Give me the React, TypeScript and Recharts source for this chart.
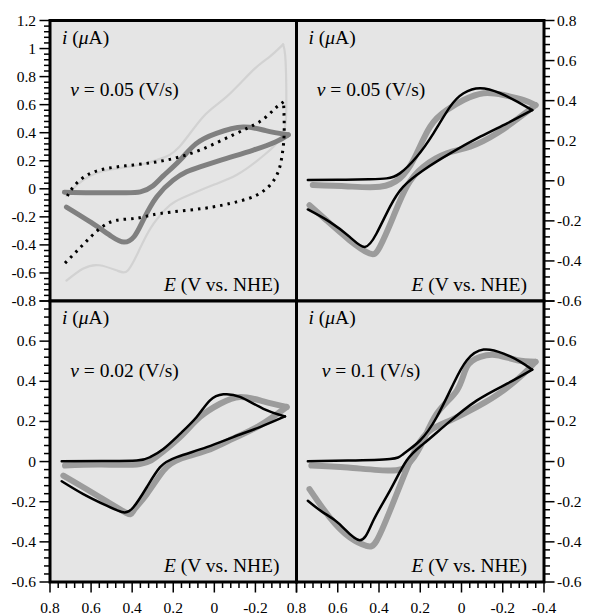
import React from 'react';
import { LineChart, Line, XAxis, YAxis, CartesianGrid, ReferenceArea } from 'recharts';

type Pt = { E: number; i: number };
const pts = (a: number[][]): Pt[] => a.map(([E, i]) => ({ E, i }));

// ---------- tick labels ----------
const X_LABELS_LEFT = ['0.8', '0.6', '0.4', '0.2', '0', '-0.2'];
const X_LABELS_RIGHT = ['0.8', '0.6', '0.4', '0.2', '0', '-0.2', '-0.4'];
const Y_LABELS_TL = ['1.2', '1', '0.8', '0.6', '0.4', '0.2', '0', '-0.2', '-0.4', '-0.6', '-0.8'];
const Y_LABELS_TR = ['0.8', '0.6', '0.4', '0.2', '0', '-0.2', '-0.4', '-0.6'];
const Y_LABELS_BOTTOM = ['0.6', '0.4', '0.2', '0', '-0.2', '-0.4', '-0.6'];

const SCAN_RATES = ['0.05', '0.05', '0.02', '0.1'];

// ---------- top-left panel (E, i) ----------
const TL_DARK_FWD = [[0.73, -0.025], [0.6, -0.028], [0.45, -0.028], [0.36, -0.022], [0.3, 0.02], [0.25, 0.09], [0.17, 0.2], [0.09, 0.32], [-0.01, 0.395], [-0.14, 0.44], [-0.25, 0.415], [-0.36, 0.385]];
const TL_DARK_REV = [[-0.36, 0.385], [-0.3, 0.336], [-0.19, 0.276], [-0.06, 0.217], [0.07, 0.157], [0.135, 0.121], [0.2, 0.062], [0.28, -0.057], [0.345, -0.22], [0.39, -0.34], [0.44, -0.38], [0.5, -0.34], [0.6, -0.24], [0.72, -0.13]];
const TL_LIGHT_FWD = [[0.72, -0.05], [0.65, 0.05], [0.557, 0.12], [0.45, 0.15], [0.35, 0.175], [0.26, 0.215], [0.17, 0.3], [0.054, 0.514], [-0.06, 0.657], [-0.19, 0.848], [-0.27, 0.943], [-0.335, 1.03]];
const TL_LIGHT_REV = [[-0.335, 1.03], [-0.345, 0.95], [-0.35, 0.75], [-0.35, 0.55], [-0.34, 0.42], [-0.3, 0.32], [-0.25, 0.25], [-0.2, 0.19], [-0.11, 0.1], [0.0, 0.03], [0.1, -0.03], [0.19, -0.09], [0.24, -0.15], [0.31, -0.28], [0.37, -0.45], [0.42, -0.58], [0.47, -0.585], [0.56, -0.545], [0.64, -0.57], [0.72, -0.655]];
const TL_DOT_LOWER = [[0.727, -0.53], [0.64, -0.4], [0.557, -0.283], [0.475, -0.224], [0.378, -0.21], [0.264, -0.176], [0.054, -0.14], [-0.109, -0.093], [-0.206, -0.045], [-0.271, 0.026], [-0.311, 0.121], [-0.33, 0.24], [-0.34, 0.4], [-0.337, 0.62]];
const TL_DOT_UPPER = [[-0.337, 0.62], [-0.29, 0.565], [-0.222, 0.48], [-0.092, 0.385], [0.07, 0.276], [0.232, 0.205], [0.394, 0.17], [0.557, 0.134], [0.654, 0.062], [0.703, -0.02], [0.725, -0.08]];

// ---------- top-right panel ----------
const TR_SIM_FWD = [[0.745, 0.004], [0.6, 0.005], [0.45, 0.008], [0.363, 0.012], [0.299, 0.037], [0.217, 0.12], [0.136, 0.237], [0.055, 0.37], [-0.01, 0.437], [-0.091, 0.462], [-0.188, 0.437], [-0.27, 0.395], [-0.343, 0.353]];
const TR_SIM_REV = [[-0.343, 0.353], [-0.221, 0.287], [-0.091, 0.22], [0.055, 0.137], [0.185, 0.053], [0.283, -0.03], [0.347, -0.13], [0.412, -0.263], [0.469, -0.33], [0.542, -0.28], [0.639, -0.205], [0.745, -0.143]];
const TR_EXP_FWD = [[0.721, -0.021], [0.55, -0.028], [0.396, -0.03], [0.299, 0.012], [0.23, 0.11], [0.152, 0.27], [0.071, 0.353], [-0.01, 0.403], [-0.107, 0.437], [-0.204, 0.428], [-0.302, 0.403], [-0.359, 0.378]];
const TR_EXP_REV = [[-0.359, 0.378], [-0.286, 0.32], [-0.172, 0.237], [-0.042, 0.17], [0.071, 0.137], [0.185, 0.07], [0.266, -0.03], [0.331, -0.18], [0.396, -0.33], [0.445, -0.363], [0.542, -0.297], [0.655, -0.197], [0.737, -0.122]];

// ---------- bottom-left panel ----------
const BL_SIM_FWD = [[0.743, 0.002], [0.55, 0.003], [0.378, 0.005], [0.313, 0.022], [0.248, 0.063], [0.167, 0.138], [0.086, 0.222], [0.021, 0.305], [-0.044, 0.335], [-0.125, 0.322], [-0.239, 0.263], [-0.344, 0.225]];
const BL_SIM_REV = [[-0.344, 0.225], [-0.222, 0.172], [-0.092, 0.122], [0.037, 0.072], [0.183, 0.022], [0.264, -0.028], [0.329, -0.128], [0.394, -0.228], [0.443, -0.253], [0.524, -0.22], [0.638, -0.162], [0.743, -0.098]];
const BL_EXP_FWD = [[0.727, -0.02], [0.55, -0.015], [0.362, -0.012], [0.264, 0.038], [0.167, 0.122], [0.07, 0.222], [-0.028, 0.288], [-0.125, 0.322], [-0.239, 0.3], [-0.352, 0.272]];
const BL_EXP_REV = [[-0.352, 0.272], [-0.222, 0.18], [-0.092, 0.115], [0.037, 0.055], [0.167, 0.013], [0.248, -0.045], [0.329, -0.162], [0.394, -0.245], [0.43, -0.255], [0.557, -0.178], [0.638, -0.128], [0.735, -0.07]];

// ---------- bottom-right panel ----------
const BR_SIM_FWD = [[0.745, 0.002], [0.55, 0.005], [0.347, 0.013], [0.282, 0.038], [0.201, 0.105], [0.12, 0.222], [0.039, 0.388], [-0.026, 0.505], [-0.107, 0.558], [-0.204, 0.538], [-0.286, 0.497], [-0.343, 0.458]];
const BR_SIM_REV = [[-0.343, 0.458], [-0.221, 0.388], [-0.075, 0.305], [0.071, 0.188], [0.185, 0.088], [0.266, 0.005], [0.347, -0.145], [0.428, -0.295], [0.493, -0.392], [0.591, -0.312], [0.672, -0.253], [0.745, -0.195]];
const BR_EXP_FWD = [[0.728, -0.02], [0.55, -0.03], [0.347, -0.045], [0.266, -0.02], [0.201, 0.072], [0.12, 0.238], [0.022, 0.355], [-0.026, 0.472], [-0.091, 0.522], [-0.172, 0.53], [-0.27, 0.505], [-0.359, 0.497]];
const BR_EXP_REV = [[-0.359, 0.497], [-0.302, 0.438], [-0.204, 0.355], [-0.075, 0.272], [0.055, 0.205], [0.152, 0.155], [0.217, 0.072], [0.282, -0.078], [0.347, -0.245], [0.412, -0.395], [0.461, -0.42], [0.542, -0.378], [0.639, -0.278], [0.737, -0.137]];

// ---------- layout ----------
const W = 589, H = 615;
const PL = 50, PM = 296.5, PR = 544, PT = 20.5, PMY = 301, PB = 582;
const FONT = 'Liberation Serif';
const BG = '#e5e5e5';

const steps = (lo: number, hi: number, step: number) => {
  const n = Math.round((hi - lo) / step);
  return Array.from({ length: n + 1 }, (_, k) => +(lo + k * step).toFixed(4));
};

const makeTick = (side: 'left' | 'right' | 'bottom', labels: string[]) => {
  const vals = labels.map(Number);
  return (props: any) => {
    const { x, y, payload } = props;
    const v = payload.value as number;
    const idx = vals.findIndex((t) => Math.abs(t - v) < 1e-6);
    const major = Math.abs(v / 0.2 - Math.round(v / 0.2)) < 1e-6;
    const len = (major ? 9 : 4.5) + 1.5;
    const tp = { fontFamily: FONT, fontSize: 15.5, fill: '#000' };
    if (side === 'left') {
      return (
        <g>
          <line x1={x} x2={x - len} y1={y} y2={y} stroke="#000" strokeWidth={1.5} />
          {idx >= 0 && <text x={x - 14} y={y + 5} textAnchor="end" {...tp}>{labels[idx]}</text>}
        </g>
      );
    }
    if (side === 'right') {
      return (
        <g>
          <line x1={x} x2={x + len} y1={y} y2={y} stroke="#000" strokeWidth={1.5} />
          {idx >= 0 && <text x={x + 13} y={y + 5} textAnchor="start" {...tp}>{labels[idx]}</text>}
        </g>
      );
    }
    return (
      <g>
        <line x1={x} x2={x} y1={y} y2={y + len} stroke="#000" strokeWidth={1.5} />
        {idx >= 0 && <text x={x} y={y + 31} textAnchor="middle" {...tp}>{labels[idx]}</text>}
      </g>
    );
  };
};

type Series = { data: number[][]; stroke: string; width: number; dash?: string };

const TL_SERIES: Series[] = [
  { data: TL_LIGHT_FWD, stroke: '#d2d2d2', width: 2.2 },
  { data: TL_LIGHT_REV, stroke: '#d2d2d2', width: 2.2 },
  { data: TL_DARK_FWD, stroke: '#808080', width: 5 },
  { data: TL_DARK_REV, stroke: '#808080', width: 5 },
  { data: TL_DOT_LOWER, stroke: '#000', width: 3, dash: '2.5 5' },
  { data: TL_DOT_UPPER, stroke: '#000', width: 3, dash: '2.5 5' },
];
const EXP = '#9c9c9c';
const pair = (ef: number[][], er: number[][], sf: number[][], sr: number[][]): Series[] => [
  { data: ef, stroke: EXP, width: 6 },
  { data: er, stroke: EXP, width: 6 },
  { data: sf, stroke: '#000', width: 2.5 },
  { data: sr, stroke: '#000', width: 2.5 },
];

type PanelProps = {
  left: number; right: number; top: number; bottom: number;
  yOrient: 'left' | 'right'; yDomain: [number, number]; yLabels: string[];
  xLabels: string[] | null; series: Series[]; rate: string;
};

function Panel(p: PanelProps) {
  const margin = {
    top: p.top,
    bottom: p.xLabels ? 0 : H - p.bottom,
    left: p.yOrient === 'left' ? 0 : p.left,
    right: p.yOrient === 'right' ? 0 : W - p.right,
  };
  const yWidth = p.yOrient === 'left' ? p.left : W - p.right;
  return (
    <div style={{ position: 'absolute', left: 0, top: 0 }}>
      <LineChart width={W} height={H} margin={margin}>
        <CartesianGrid horizontal={false} vertical={false} fill={BG} fillOpacity={1} stroke="none" />
        <XAxis
          type="number" dataKey="E" domain={[-0.4, 0.8]} reversed allowDataOverflow
          hide={!p.xLabels} height={H - p.bottom}
          ticks={steps(-0.4, 0.8, 0.04)} interval={0}
          tickSize={0} tickMargin={0} tickLine={false} axisLine={false}
          tick={makeTick('bottom', p.xLabels || [])}
        />
        <YAxis
          type="number" orientation={p.yOrient} domain={p.yDomain} allowDataOverflow width={yWidth}
          ticks={steps(p.yDomain[0], p.yDomain[1], 0.04)} interval={0}
          tickSize={0} tickMargin={0} tickLine={false} axisLine={false}
          tick={makeTick(p.yOrient, p.yLabels)}
        />
        {p.series.map((s, k) => (
          <Line
            key={k} data={pts(s.data)} dataKey="i" type="natural" stroke={s.stroke}
            strokeWidth={s.width} strokeDasharray={s.dash} strokeLinecap={s.dash ? 'butt' : 'round'}
            strokeLinejoin="round" dot={false} activeDot={false} isAnimationActive={false}
          />
        ))}
        <ReferenceArea x1={0.8} x2={-0.4} y1={p.yDomain[0]} y2={p.yDomain[1]} fill="none" stroke="#000" strokeWidth={3} ifOverflow="visible" />
        <text x={p.left + 12} y={p.top + 23} fontFamily={FONT} fontSize={19.5} fill="#000">
          <tspan fontStyle="italic">i</tspan>
          <tspan>{' ('}</tspan>
          <tspan fontStyle="italic">μ</tspan>
          <tspan>A)</tspan>
        </text>
        <text x={p.left + 74.5} y={p.top + 75.5} textAnchor="middle" fontFamily={FONT} fontSize={19.5} fill="#000">
          <tspan fontStyle="italic">v</tspan>
          <tspan>{' = ' + p.rate + ' (V/s)'}</tspan>
        </text>
        <text x={p.right - 17} y={p.bottom - 10} textAnchor="end" fontFamily={FONT} fontSize={19.5} fill="#000">
          <tspan fontStyle="italic">E</tspan>
          <tspan>{' (V vs. NHE)'}</tspan>
        </text>
      </LineChart>
    </div>
  );
}

export default function App() {
  return (
    <div style={{ position: 'absolute', left: 0, top: 0, width: W, height: H, background: '#fff' }}>
      <Panel left={PL} right={PM} top={PT} bottom={PMY} yOrient="left" yDomain={[-0.8, 1.2]}
        yLabels={Y_LABELS_TL} xLabels={null} series={TL_SERIES} rate={SCAN_RATES[0]} />
      <Panel left={PM} right={PR} top={PT} bottom={PMY} yOrient="right" yDomain={[-0.6, 0.8]}
        yLabels={Y_LABELS_TR} xLabels={null} series={pair(TR_EXP_FWD, TR_EXP_REV, TR_SIM_FWD, TR_SIM_REV)} rate={SCAN_RATES[1]} />
      <Panel left={PL} right={PM} top={PMY} bottom={PB} yOrient="left" yDomain={[-0.6, 0.8]}
        yLabels={Y_LABELS_BOTTOM} xLabels={X_LABELS_LEFT} series={pair(BL_EXP_FWD, BL_EXP_REV, BL_SIM_FWD, BL_SIM_REV)} rate={SCAN_RATES[2]} />
      <Panel left={PM} right={PR} top={PMY} bottom={PB} yOrient="right" yDomain={[-0.6, 0.8]}
        yLabels={Y_LABELS_BOTTOM} xLabels={X_LABELS_RIGHT} series={pair(BR_EXP_FWD, BR_EXP_REV, BR_SIM_FWD, BR_SIM_REV)} rate={SCAN_RATES[3]} />
    </div>
  );
}
